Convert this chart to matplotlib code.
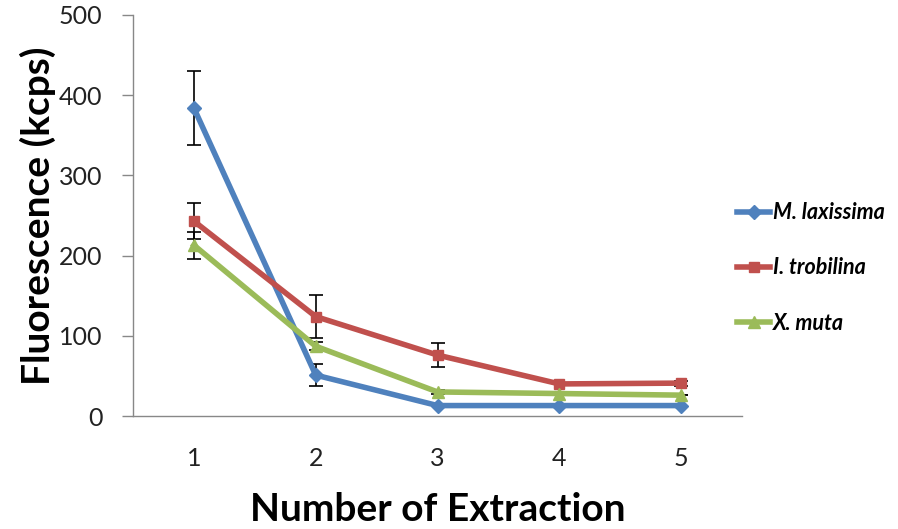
import matplotlib
matplotlib.use("Agg")
import matplotlib.pyplot as plt

extraction = [1, 2, 3, 4, 5]
series_names = ["M. laxissima", "I. trobilina", "X. muta"]
m_laxissima = [384, 51, 13, 13, 13]
m_laxissima_err = [46, 14, 0, 0, 0]
i_trobilina = [243, 124, 76, 40, 41]
i_trobilina_err = [22, 27, 15, 0, 3]
x_muta = [213, 87, 30, 28, 26]
x_muta_err = [17, 5, 3, 0, 0]
y_ticks = [0, 100, 200, 300, 400, 500]

colors = ["#4F81BD", "#C0504D", "#9BBB59"]
markers = ["D", "s", "^"]

plt.rcParams['font.family'] = ['Lato', 'DejaVu Sans']

fig = plt.figure(figsize=(8.98, 5.29), dpi=100)
ax = fig.add_axes([133/898, 1-416/529, (742-133)/898, (416-15)/529])

data = [(m_laxissima, m_laxissima_err), (i_trobilina, i_trobilina_err), (x_muta, x_muta_err)]
msizes = [7, 6.5, 8]
for (vals, errs), c, mk, name, ms in zip(data, colors, markers, series_names, msizes):
    ax.errorbar(extraction, vals, yerr=errs, fmt='none', ecolor='black',
                elinewidth=1.2, capsize=5, capthick=1.2, zorder=2)
    ax.plot(extraction, vals, color=c, lw=4, marker=mk, markersize=ms,
            markerfacecolor=c, markeredgecolor=c, label=name, zorder=3)

ax.set_xlim(0.5, 5.5)
ax.set_ylim(0, 500)
ax.set_yticks(y_ticks)
ax.set_xticks(extraction)
ax.tick_params(axis='x', length=0, pad=22, labelsize=18, colors='#222222')
ax.tick_params(axis='y', length=8, width=1, color='#888888', pad=14, labelsize=18, labelcolor='#222222')
for s in ['top', 'right']:
    ax.spines[s].set_visible(False)
for s in ['left', 'bottom']:
    ax.spines[s].set_color('#888888')
    ax.spines[s].set_linewidth(1)

ax.set_xlabel("Number of Extraction", fontsize=28, fontweight='bold', labelpad=16)
ax.set_ylabel("Fluorescence (kcps)", fontsize=28, fontweight='bold', labelpad=2)

leg = ax.legend(loc='center left', bbox_to_anchor=(737/898, 1-268/529),
                bbox_transform=fig.transFigure, frameon=False,
                borderpad=0, borderaxespad=0,
                prop={'weight': 'bold', 'style': 'italic', 'size': 15.5},
                labelspacing=1.6, handlelength=1.55, handletextpad=0.1)

fig.savefig("out.png", dpi=100)
